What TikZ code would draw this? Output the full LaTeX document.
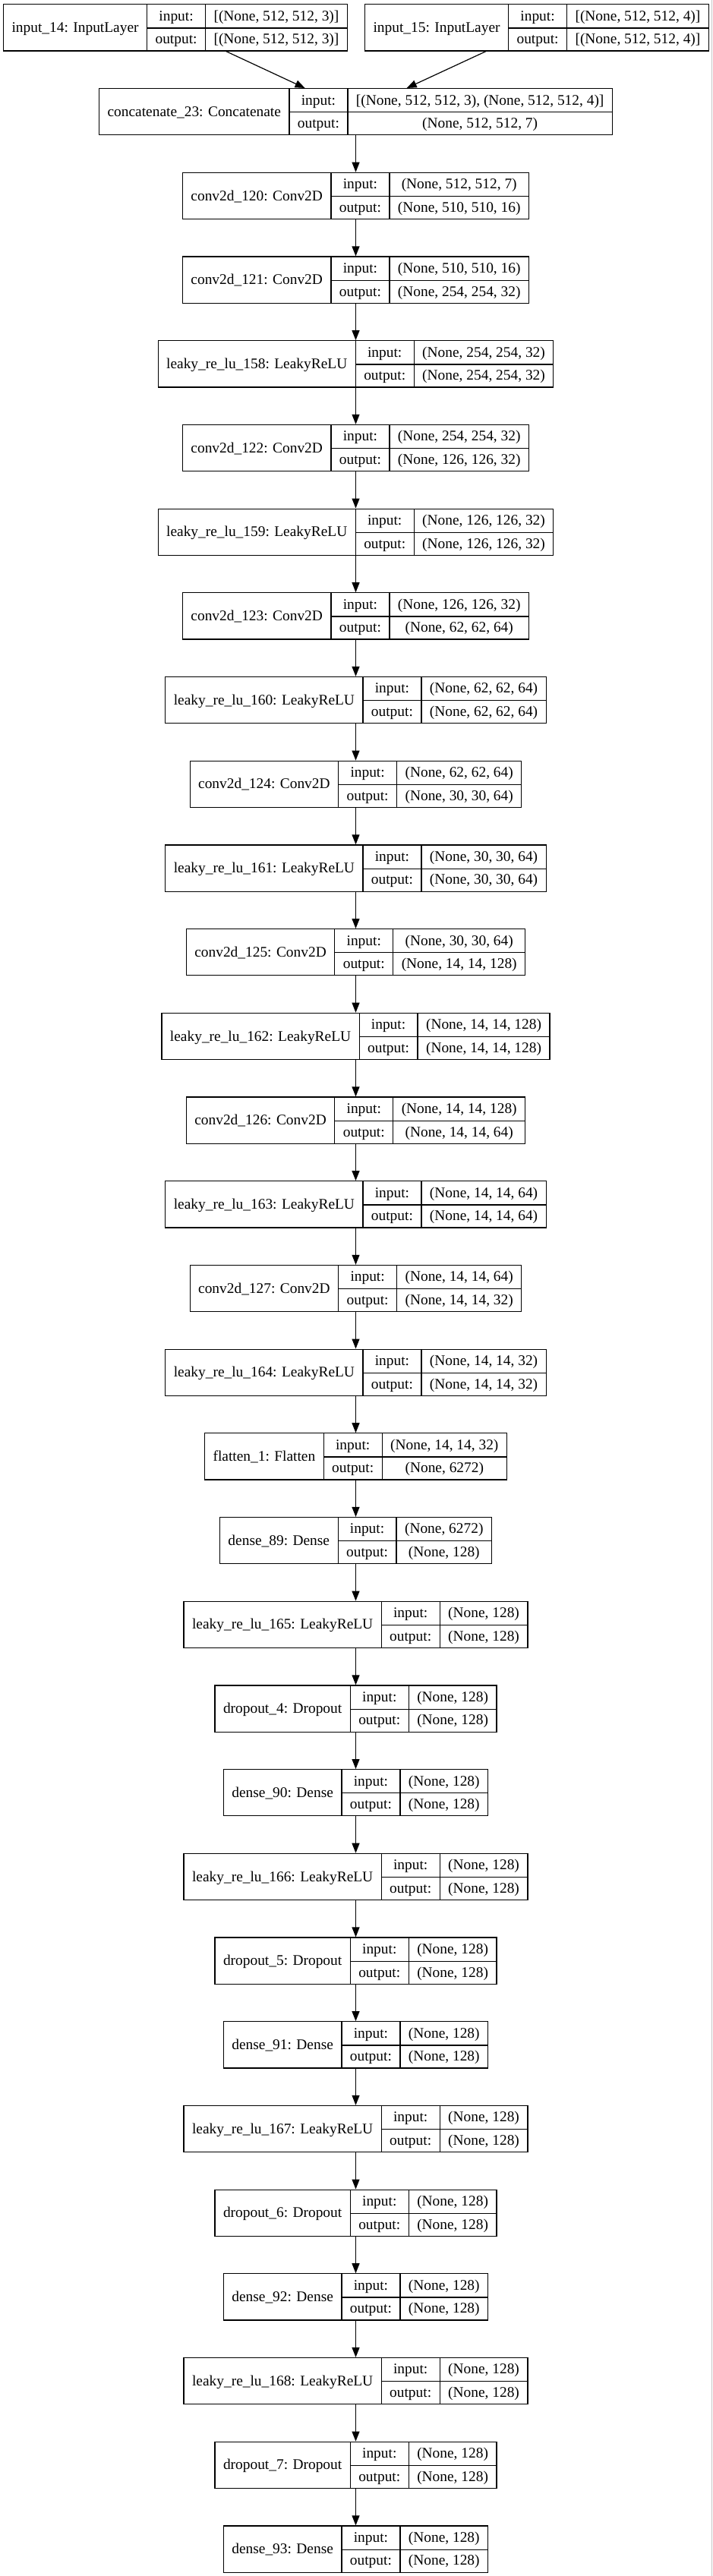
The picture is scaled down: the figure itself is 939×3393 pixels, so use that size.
\documentclass[tikz,border=0pt]{standalone}
\usepackage{fontspec}
\setmainfont{Liberation Serif}
\usepackage{tikz}
\usetikzlibrary{positioning,arrows.meta}
\setlength{\tabcolsep}{11pt}
\setlength{\arrayrulewidth}{1.2pt}
\newcommand{\layerbox}[3]{%
  \begin{tabular}{c|c|c}
    \raisebox{-15.3pt}[0pt][0pt]{#1} & input: & #2\\ \cline{2-3}
    & output: & #3
  \end{tabular}}
\tikzstyle{layer} = [draw, line width=1.2pt, inner sep=0pt, fill=white, font=\fontsize{19.4}{30.6}\selectfont]
\tikzstyle{flow} = [-{Triangle[length=13pt,width=10pt]}, line width=1.2pt]

\begin{document}
\begin{tikzpicture}[x=1pt, y=-1pt]
    \useasboundingbox (0,0) rectangle (939,3393);
    \draw[gray!45, line width=1pt] (937.5,0) -- (937.5,3393);
    % inputs
    \node[layer] (in14) at (231, 36.5) {\layerbox{input\_14: InputLayer}{[(None, 512, 512, 3)]}{[(None, 512, 512, 3)]}};
    \node[layer] (in15) at (707, 36.5) {\layerbox{input\_15: InputLayer}{[(None, 512, 512, 4)]}{[(None, 512, 512, 4)]}};
    \node[layer] (concat) at (468.5, 147.2) {\layerbox{concatenate\_23: Concatenate}{[(None, 512, 512, 3), (None, 512, 512, 4)]}{(None, 512, 512, 7)}};
    % conv part
    \node[layer] (conv120) at (468.5, 257.9) {\layerbox{conv2d\_120: Conv2D}{(None, 512, 512, 7)}{(None, 510, 510, 16)}};
    \node[layer] (conv121) at (468.5, 368.6) {\layerbox{conv2d\_121: Conv2D}{(None, 510, 510, 16)}{(None, 254, 254, 32)}};
    \node[layer] (lrelu158) at (468.5, 479.3) {\layerbox{leaky\_re\_lu\_158: LeakyReLU}{(None, 254, 254, 32)}{(None, 254, 254, 32)}};
    \node[layer] (conv122) at (468.5, 590.0) {\layerbox{conv2d\_122: Conv2D}{(None, 254, 254, 32)}{(None, 126, 126, 32)}};
    \node[layer] (lrelu159) at (468.5, 700.7) {\layerbox{leaky\_re\_lu\_159: LeakyReLU}{(None, 126, 126, 32)}{(None, 126, 126, 32)}};
    \node[layer] (conv123) at (468.5, 811.4) {\layerbox{conv2d\_123: Conv2D}{(None, 126, 126, 32)}{(None, 62, 62, 64)}};
    \node[layer] (lrelu160) at (468.5, 922.1) {\layerbox{leaky\_re\_lu\_160: LeakyReLU}{(None, 62, 62, 64)}{(None, 62, 62, 64)}};
    \node[layer] (conv124) at (468.5, 1032.8) {\layerbox{conv2d\_124: Conv2D}{(None, 62, 62, 64)}{(None, 30, 30, 64)}};
    \node[layer] (lrelu161) at (468.5, 1143.5) {\layerbox{leaky\_re\_lu\_161: LeakyReLU}{(None, 30, 30, 64)}{(None, 30, 30, 64)}};
    \node[layer] (conv125) at (468.5, 1254.2) {\layerbox{conv2d\_125: Conv2D}{(None, 30, 30, 64)}{(None, 14, 14, 128)}};
    \node[layer] (lrelu162) at (468.5, 1364.9) {\layerbox{leaky\_re\_lu\_162: LeakyReLU}{(None, 14, 14, 128)}{(None, 14, 14, 128)}};
    \node[layer] (conv126) at (468.5, 1475.6) {\layerbox{conv2d\_126: Conv2D}{(None, 14, 14, 128)}{(None, 14, 14, 64)}};
    \node[layer] (lrelu163) at (468.5, 1586.3) {\layerbox{leaky\_re\_lu\_163: LeakyReLU}{(None, 14, 14, 64)}{(None, 14, 14, 64)}};
    \node[layer] (conv127) at (468.5, 1697.0) {\layerbox{conv2d\_127: Conv2D}{(None, 14, 14, 64)}{(None, 14, 14, 32)}};
    \node[layer] (lrelu164) at (468.5, 1807.7) {\layerbox{leaky\_re\_lu\_164: LeakyReLU}{(None, 14, 14, 32)}{(None, 14, 14, 32)}};
    % dense part
    \node[layer] (flat1) at (468.5, 1918.4) {\layerbox{flatten\_1: Flatten}{(None, 14, 14, 32)}{(None, 6272)}};
    \node[layer] (dense89) at (468.5, 2029.1) {\layerbox{dense\_89: Dense}{(None, 6272)}{(None, 128)}};
    \node[layer] (lrelu165) at (468.5, 2139.8) {\layerbox{leaky\_re\_lu\_165: LeakyReLU}{(None, 128)}{(None, 128)}};
    \node[layer] (drop4) at (468.5, 2250.5) {\layerbox{dropout\_4: Dropout}{(None, 128)}{(None, 128)}};
    \node[layer] (dense90) at (468.5, 2361.2) {\layerbox{dense\_90: Dense}{(None, 128)}{(None, 128)}};
    \node[layer] (lrelu166) at (468.5, 2471.9) {\layerbox{leaky\_re\_lu\_166: LeakyReLU}{(None, 128)}{(None, 128)}};
    \node[layer] (drop5) at (468.5, 2582.6) {\layerbox{dropout\_5: Dropout}{(None, 128)}{(None, 128)}};
    \node[layer] (dense91) at (468.5, 2693.3) {\layerbox{dense\_91: Dense}{(None, 128)}{(None, 128)}};
    \node[layer] (lrelu167) at (468.5, 2804.0) {\layerbox{leaky\_re\_lu\_167: LeakyReLU}{(None, 128)}{(None, 128)}};
    \node[layer] (drop6) at (468.5, 2914.7) {\layerbox{dropout\_6: Dropout}{(None, 128)}{(None, 128)}};
    \node[layer] (dense92) at (468.5, 3025.4) {\layerbox{dense\_92: Dense}{(None, 128)}{(None, 128)}};
    \node[layer] (lrelu168) at (468.5, 3136.1) {\layerbox{leaky\_re\_lu\_168: LeakyReLU}{(None, 128)}{(None, 128)}};
    \node[layer] (drop7) at (468.5, 3246.8) {\layerbox{dropout\_7: Dropout}{(None, 128)}{(None, 128)}};
    \node[layer] (dense93) at (468.5, 3357.5) {\layerbox{dense\_93: Dense}{(None, 128)}{(None, 128)}};
    % edges
    \draw[flow] (in14) -- (concat);
    \draw[flow] (in15) -- (concat);
    \draw[flow] (concat) -- (conv120);
    \draw[flow] (conv120) -- (conv121);
    \draw[flow] (conv121) -- (lrelu158);
    \draw[flow] (lrelu158) -- (conv122);
    \draw[flow] (conv122) -- (lrelu159);
    \draw[flow] (lrelu159) -- (conv123);
    \draw[flow] (conv123) -- (lrelu160);
    \draw[flow] (lrelu160) -- (conv124);
    \draw[flow] (conv124) -- (lrelu161);
    \draw[flow] (lrelu161) -- (conv125);
    \draw[flow] (conv125) -- (lrelu162);
    \draw[flow] (lrelu162) -- (conv126);
    \draw[flow] (conv126) -- (lrelu163);
    \draw[flow] (lrelu163) -- (conv127);
    \draw[flow] (conv127) -- (lrelu164);
    \draw[flow] (lrelu164) -- (flat1);
    \draw[flow] (flat1) -- (dense89);
    \draw[flow] (dense89) -- (lrelu165);
    \draw[flow] (lrelu165) -- (drop4);
    \draw[flow] (drop4) -- (dense90);
    \draw[flow] (dense90) -- (lrelu166);
    \draw[flow] (lrelu166) -- (drop5);
    \draw[flow] (drop5) -- (dense91);
    \draw[flow] (dense91) -- (lrelu167);
    \draw[flow] (lrelu167) -- (drop6);
    \draw[flow] (drop6) -- (dense92);
    \draw[flow] (dense92) -- (lrelu168);
    \draw[flow] (lrelu168) -- (drop7);
    \draw[flow] (drop7) -- (dense93);
\end{tikzpicture}
\end{document}
